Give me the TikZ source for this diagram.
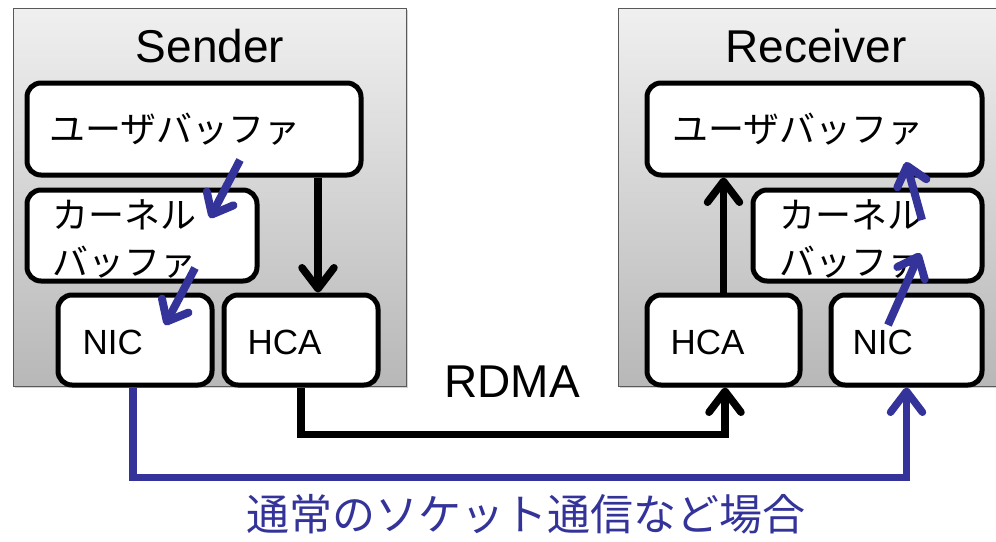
\documentclass[tikz,border=0pt]{standalone}
\usepackage{fontspec}
\setmainfont{Liberation Sans}
\newfontfamily\jp{Noto Sans CJK JP}
\usetikzlibrary{arrows.meta,shadows}
\definecolor{myblue}{RGB}{51,51,153}
\tikzset{
  outerbox/.style={draw=black!65, line width=1pt, top color=black!6, bottom color=black!28,
    drop shadow={shadow xshift=2pt, shadow yshift=-2pt, opacity=0.35}},
  inbox/.style={draw=black, fill=white, line width=5pt, rounded corners=14pt, inner sep=0pt,
    drop shadow={shadow xshift=2pt, shadow yshift=-2pt, opacity=0.25}},
  blk/.style={line width=7.5pt, draw=black, -{Straight Barb[length=21pt,width=32pt,line cap=round,round]}},
  blu/.style={line width=8pt, draw=myblue, -{Straight Barb[length=18pt,width=30pt,line cap=round,round]}},
  blupath/.style={line width=7.5pt, draw=myblue, -{Straight Barb[length=21pt,width=32pt,line cap=round,round]}},
  jptext/.style={font=\jp\fontsize{36}{47}\selectfont, anchor=west, inner sep=0pt, align=left},
  entext/.style={font=\fontsize{35}{40}\selectfont, anchor=west, inner sep=0pt},
  titletext/.style={font=\fontsize{46}{50}\selectfont, inner sep=0pt}
}
\begin{document}
\begin{tikzpicture}[x=1pt,y=-1pt]
\useasboundingbox (0,0) rectangle (996,541);
% containers
\path[outerbox] (13,8) rectangle (406,386);
\path[outerbox] (618,8) rectangle (1004,386);
\node[titletext] (sendt) at (210,46) {Sender};
\node[titletext] (recvt) at (816,46) {Receiver};
% sender boxes
\node[inbox, minimum width=334pt, minimum height=92pt] (suser) at (194,129) {};
\node[inbox, minimum width=230pt, minimum height=91pt] (skern) at (142,235.5) {};
\node[inbox, minimum width=154pt, minimum height=90pt] (snic) at (135,340) {};
\node[inbox, minimum width=154pt, minimum height=90pt] (shca) at (301,340) {};
% receiver boxes
\node[inbox, minimum width=335pt, minimum height=92pt] (ruser) at (814.5,129) {};
\node[inbox, minimum width=229pt, minimum height=91pt] (rkern) at (867.5,235.5) {};
\node[inbox, minimum width=153pt, minimum height=90pt] (rhca) at (723.5,340) {};
\node[inbox, minimum width=151pt, minimum height=90pt] (rnic) at (906.5,340) {};
% texts
\node[jptext] (suserl) at ([xshift=25pt]suser.west) {ユーザバッファ};
\node[jptext] (ruserl) at ([xshift=28pt]ruser.west) {ユーザバッファ};
\node[jptext] (skernl) at ([xshift=28pt,yshift=-3pt]skern.west) {カーネル\\バッファ};
\node[jptext] (rkernl) at ([xshift=29pt,yshift=-3pt]rkern.west) {カーネル\\バッファ};
\node[entext] (snicl) at ([xshift=27pt,yshift=-2pt]snic.west) {NIC};
\node[entext] (shcal) at ([xshift=26pt,yshift=-2pt]shca.west) {HCA};
\node[entext] (rhcal) at ([xshift=26pt,yshift=-2pt]rhca.west) {HCA};
\node[entext] (rnicl) at ([xshift=24pt,yshift=-2pt]rnic.west) {NIC};
\node[titletext] (rdma) at (512,382) {RDMA};
\node[font=\jp\fontsize{43}{48}\selectfont, text=myblue, inner sep=0pt] (socket) at (526,514) {通常のソケット通信など場合};
% black arrows
\draw[blk] ([xshift=124pt]suser.south) -- ([xshift=17pt]shca.north);
\draw[blk] (rhca.north) -- (rhca.north |- ruser.south);
\draw[blk] (shca.south) -- ++(0,47) -| ([xshift=1.5pt]rhca.south);
% blue path
\draw[blupath] ([xshift=-2pt]snic.south) -- ++(0,90) -| (rnic.south);
% blue diagonal arrows
\coordinate (a1) at (240,160); \coordinate (a1e) at (210,218);
\coordinate (a2) at (195,268); \coordinate (a2e) at (165,325);
\coordinate (b1) at (888,325); \coordinate (b1e) at (920,253);
\coordinate (b2) at (922,220); \coordinate (b2e) at (906,162);
\draw[blu] (a1) -- (a1e);
\draw[blu] (a2) -- (a2e);
\draw[blu] (b1) -- (b1e);
\draw[blu] (b2) -- (b2e);
\end{tikzpicture}
\end{document}
